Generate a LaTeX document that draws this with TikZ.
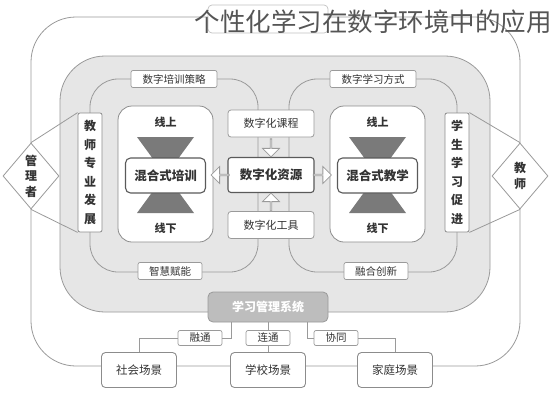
\documentclass[tikz,border=0pt]{standalone}
\usepackage{fontspec}
\newfontfamily\cjk{Noto Sans CJK SC}
\usetikzlibrary{shapes.geometric,shapes.arrows}
\definecolor{ln}{HTML}{9A9A9A}
\definecolor{bd}{HTML}{8C8C8C}
\definecolor{dk}{HTML}{5A5A5A}
\definecolor{tx}{HTML}{333333}
\definecolor{panel}{HTML}{E6E6E6}
\definecolor{tri}{HTML}{7A7A7A}
\definecolor{sysf}{HTML}{BDBDBD}
\definecolor{ttl}{HTML}{555555}
\tikzset{
  line/.style={draw=ln, line width=0.8},
  lbl/.style={draw=ln, fill=white, rounded corners=2, line width=0.7, inner sep=0,
    minimum height=17, text=tx, font=\cjk\fontsize{10.5}{12}\selectfont},
  cont/.style={draw=bd, fill=white, line width=0.8, rounded corners=14,
    minimum width=95, minimum height=136, inner sep=0},
  mix/.style={draw=dk, fill=white, line width=1.1, rounded corners=5, inner sep=0,
    minimum width=80, minimum height=35, text=tx, font=\cjk\bfseries\fontsize{12.5}{14}\selectfont},
  online/.style={text=tx, font=\cjk\bfseries\fontsize{11}{13}\selectfont, inner sep=0},
  cbox/.style={draw=ln, fill=white, line width=0.8, rounded corners=3, inner sep=0,
    minimum width=86, minimum height=27, text=tx, font=\cjk\fontsize{11}{13}\selectfont},
  mainbox/.style={draw=dk, line width=1.1, minimum height=35, font=\cjk\bfseries\fontsize{12.5}{14}\selectfont},
  barrow/.style={single arrow, draw=ln, fill=white, line width=0.8, inner sep=0,
    minimum height=18, minimum width=17, single arrow head extend=4},
  vbox/.style={draw=bd, fill=white, line width=0.8, rounded corners=2, inner sep=0,
    minimum width=24, minimum height=119, align=center, text=tx,
    font=\cjk\bfseries\fontsize{12}{18.5}\selectfont},
  dia/.style={diamond, draw=ln, fill=white, line width=0.8, inner sep=0,
    minimum width=56, minimum height=66},
  dtext/.style={align=center, text=tx, inner sep=0, font=\cjk\bfseries\fontsize{12}{15.5}\selectfont},
  sysbox/.style={draw=ln, fill=sysf, rounded corners=5, line width=0.8, inner sep=0,
    minimum width=120, minimum height=30, text=white, font=\cjk\bfseries\fontsize{12}{14}\selectfont},
  scene/.style={draw=bd, fill=white, rounded corners=4, line width=0.9, inner sep=0,
    minimum width=75, minimum height=35, text=tx, font=\cjk\fontsize{11.5}{13}\selectfont},
  slbl/.style={lbl, minimum width=44, minimum height=15}
}
\begin{document}
\begin{tikzpicture}[x=1pt,y=-1pt]
\useasboundingbox (0,0) rectangle (552,400);
\fill[white] (0,0) rectangle (552,400);
% outer frame
\draw[line, rounded corners=45] (31,17) rectangle (520,366);
% gray panel
\draw[draw=ln, fill=panel, line width=0.8, rounded corners=45] (60,56) rectangle (490,312);
% loops
\draw[line, rounded corners=28] (90,79) rectangle (258,272);
\draw[line, rounded corners=28] (289,79) rectangle (457,272);
% containers
\node[cont] (lc) at (165.5,174) {};
\node[cont] (rc) at (377.5,174) {};
% hourglasses
\fill[tri] (137,137) -- (194,137) -- (165.5,176) -- cycle;
\fill[tri] (137,213) -- (194,213) -- (165.5,174) -- cycle;
\fill[tri] (349,137) -- (406,137) -- (377.5,176) -- cycle;
\fill[tri] (349,213) -- (406,213) -- (377.5,174) -- cycle;
\node[mix] (lm) at (165.5,175.5) {混合式培训};
\node[mix] (rm) at (377.5,175.5) {混合式教学};
\node[online] (lu) at (165.5,122) {线上};
\node[online] (ld) at (165.5,228) {线下};
\node[online] (ru) at (377.5,122) {线上};
\node[online] (rd) at (377.5,228) {线下};
% centre column
\node[cbox] (kc) at (271,123.5) {数字化课程};
\node[cbox, mainbox] (zy) at (271,175) {数字化资源};
\node[cbox] (gj) at (271,225) {数字化工具};
\node[barrow, shape border rotate=270] (a1) at (271,147.5) {};
\node[barrow, shape border rotate=90] (a2) at (271,202.5) {};
\node[barrow, shape border rotate=180] (a3) at (220.5,175) {};
\node[barrow] (a4) at (322,175) {};
% loop labels
\node[lbl, minimum width=86] (l1) at (174,79) {数字培训策略};
\node[lbl, minimum width=86] (l2) at (373,79) {数字学习方式};
\node[lbl, minimum width=64] (l3) at (170,271) {智慧赋能};
\node[lbl, minimum width=64] (l4) at (376,271) {融合创新};
% side boxes
\node[vbox] (vl) at (90,172.5) {教\\师\\专\\业\\发\\展};
\node[vbox] (vr) at (457,172.5) {学\\生\\学\\习\\促\\进};
\node[dia] (mgr) at (31,176) {};
\node[dia] (tch) at (520,176) {};
\draw[line] (mgr.north) -- (vl.north west);
\draw[line] (mgr.south) -- (vl.south west);
\draw[line] (tch.north) -- (vr.north east);
\draw[line] (tch.south) -- (vr.south east);
\node[dtext] (mgrt) at (mgr) {管\\理\\者};
\node[dtext] (tcht) at (tch) {教\\师};
% system and scenes
\node[sysbox] (sys) at (268,307) {学习管理系统};
\node[scene] (soc) at (139,370) {社会场景};
\node[scene] (sch) at (268,370) {学校场景};
\node[scene] (home) at (395,370) {家庭场景};
\node[slbl] (rt) at (200,338) {融通};
\node[slbl] (lt) at (268,338) {连通};
\node[slbl] (xt) at (336,338) {协同};
\draw[line] ([xshift=24pt]sys.south west) |- (rt.east);
\draw[line] (rt.west) -| (soc.north);
\draw[line] (sys.south) -- (lt.north);
\draw[line] (lt.south) -- (sch.north);
\draw[line] ([xshift=-21pt]sys.south east) |- (xt.west);
\draw[line] (xt.east) -| (home.north);
% title
\node[draw=ln!60, fill=white, rounded corners=4, line width=0.7, minimum width=120, minimum height=28, inner sep=0] (tb) at (268,19) {};
\node[anchor=east, inner sep=0, text=ttl, font=\cjk\fontsize{25.5}{28}\selectfont] (title) at (552,22) {个性化学习在数字环境中的应用};
\end{tikzpicture}
\end{document}
